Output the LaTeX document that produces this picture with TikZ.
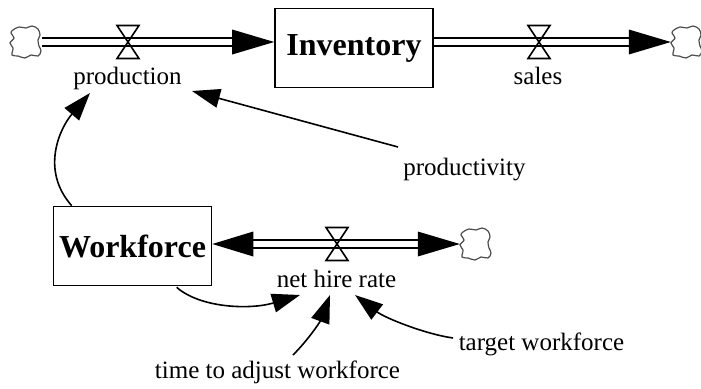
\documentclass[tikz,border=0pt]{standalone}
\usepackage{fontspec}
\setmainfont{Liberation Serif}
\usetikzlibrary{arrows.meta,calc}

\tikzset{
  stock/.style={draw, line width=1.6pt, minimum width=158pt, minimum height=79pt,
    inner sep=0pt, font=\fontsize{32}{38}\selectfont\bfseries},
  lbl/.style={inner sep=0pt, anchor=base, font=\fontsize{25}{30}\selectfont},
  pipe/.style={double, line width=1.8pt, double distance=6pt},
  info/.style={line width=1.6pt, -{Triangle[length=28pt,width=19pt]}},
  spot/.style={inner sep=0pt, minimum size=32pt},
  cloud/.pic={
    \draw[line width=1.2pt, black!70]
      plot[smooth cycle, tension=0.6] coordinates {
        (-13,-12) (-7,-15) (0,-14) (6,-16) (12,-13) (14,-7) (12,-2) (13,4)
        (15,9) (12,14) (5,13) (-1,16) (-8,14) (-14,13) (-13,6) (-16,1)
        (-12,-4) (-15,-9)};
  },
  valve/.pic={
    \draw[line width=1.6pt, line join=miter]
      (-11,-16.5) -- (11,-16.5) -- (-11,16.5) -- (11,16.5) -- cycle;
  },
  flowright/.pic={\fill (0,0) -- (-42,-12.5) -- (-42,12.5) -- cycle;},
  flowleft/.pic={\fill (0,0) -- (41,-12.5) -- (41,12.5) -- cycle;},
}

\begin{document}
\begin{tikzpicture}[x=1pt, y=-1pt]
\useasboundingbox (0,0) rectangle (701,388);

% stocks
\node[stock] (inv) at (354,48) {Inventory};
\node[stock] (wf) at (132.5,246) {Workforce};

% sources and sinks
\node[spot] (c1) at (26,42) {};
\node[spot] (c2) at (687,42) {};
\node[spot] (c3) at (476,244) {};
\pic at (c1) {cloud};
\pic at (c2) {cloud};
\pic at (c3) {cloud};

% valves
\coordinate (v1) at (128,42);
\coordinate (v2) at (539,42);
\coordinate (v3) at (337,244);

% flow pipes
\draw[pipe, shorten >=30pt] (c1.east) -- (inv.west |- c1);
\draw[pipe, shorten >=30pt] (inv.east |- c2) -- (c2.west);
\draw[pipe, shorten <=30pt, shorten >=30pt] (wf.east |- c3) -- (c3.west);
\pic at (inv.west |- c1) {flowright};
\pic at (c2.west) {flowright};
\pic at (c3.west) {flowright};
\pic at (wf.east |- c3) {flowleft};
\pic at (v1) {valve};
\pic at (v2) {valve};
\pic at (v3) {valve};

% variable names
\node[lbl] (prod) at (127.5,84) {production};
\node[lbl] (sales) at (538,84) {sales};
\node[lbl] (pty) at (464.5,175) {productivity};
\node[lbl] (nhr) at (336.5,287) {net hire rate};
\node[lbl] (tw) at (541.5,350) {target workforce};
\node[lbl] (tta) at (277.5,378) {time to adjust workforce};

% connector ends
\coordinate (wf-up) at ($(wf.north west)+(19,0)$);
\coordinate (wf-down) at ($(wf.south west)+(124,1)$);
\coordinate (prod-l) at (90,93);
\coordinate (prod-r) at (192,91);
\coordinate (pty-out) at (398,147);
\coordinate (nhr-l) at (300,295);
\coordinate (nhr-m) at (330,295);
\coordinate (nhr-r) at (355,295);
\coordinate (tta-out) at (293,355);
\coordinate (tw-out) at (453,338);

% information links
\draw[info] (wf-up) .. controls (40,170) and (60,128) .. (prod-l);
\draw[info] (pty-out) -- (prod-r);
\draw[info] (wf-down) .. controls (200,308) and (250,310) .. (nhr-l);
\draw[info] (tta-out) .. controls (308,340) and (320,322) .. (nhr-m);
\draw[info] (tw-out) .. controls (425,334) and (385,318) .. (nhr-r);
\end{tikzpicture}
\end{document}
